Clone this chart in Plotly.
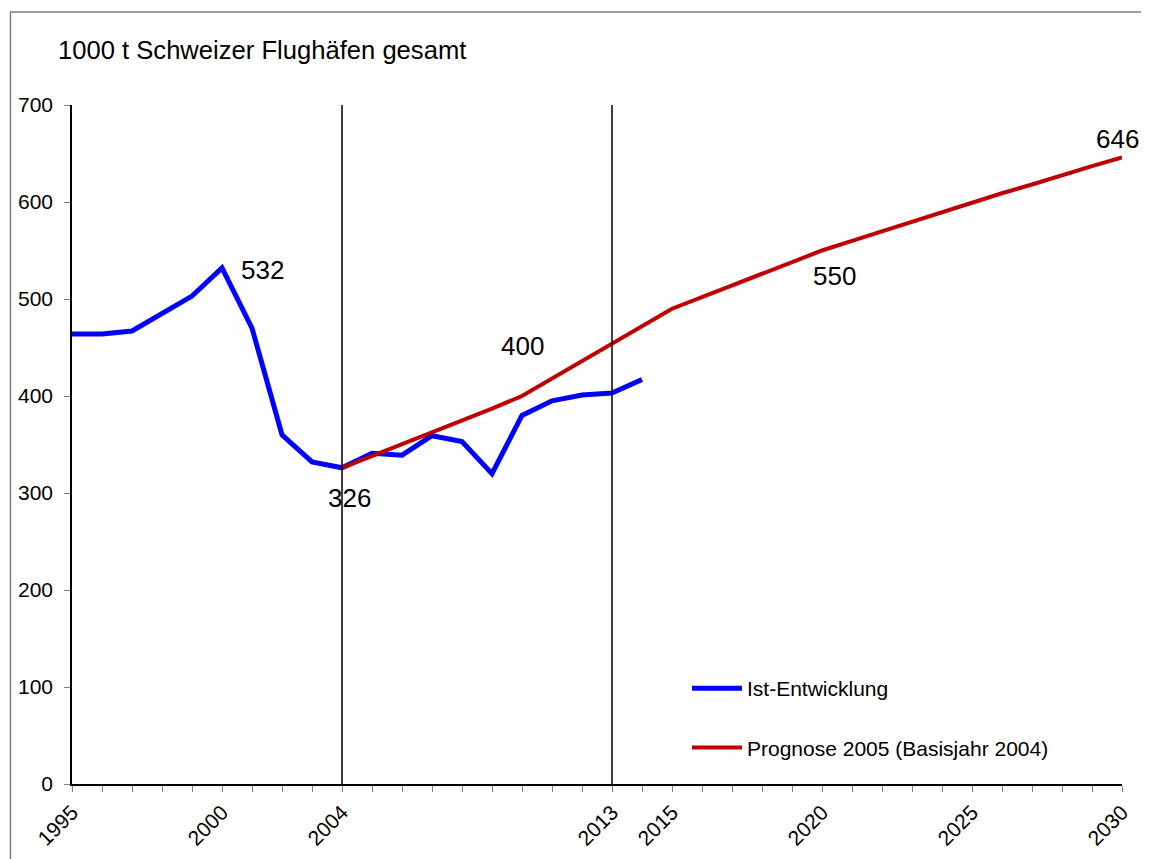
import plotly.graph_objects as go

# Ist-Entwicklung (1000 t), 1995-2014
ist_years = list(range(1995, 2015))
ist_values = [464, 464, 467, 485, 503, 532, 470, 360, 332, 326,
              341, 339, 359, 353, 320, 380, 395, 401, 403, 417]

# Prognose 2005 (Basisjahr 2004), 2004-2030
prog_years = list(range(2004, 2031))
prog_values = [326, 338, 350, 362, 375, 387, 400, 418, 436, 454,
               472, 490, 502, 514, 526, 538, 550, 560, 570, 580,
               590, 600, 609, 618, 628, 637, 646]

label_years = [1995, 2000, 2004, 2013, 2015, 2020, 2025, 2030]
marker_years = [2004, 2013]

FONT = "Arial, Liberation Sans, sans-serif"

fig = go.Figure()
fig.add_trace(go.Scatter(x=ist_years, y=ist_values, mode='lines', name='Ist-Entwicklung',
                         legendgroup='ist', line=dict(color='#0000FF', width=5)))
fig.add_trace(go.Scatter(x=prog_years, y=prog_values, mode='lines',
                         name='Prognose 2005 (Basisjahr 2004)', legendgroup='prog',
                         line=dict(color='#C00000', width=4)))

# vertical reference lines
for yr in marker_years:
    fig.add_shape(type='line', x0=yr, x1=yr, y0=0, y1=700, xref='x', yref='y',
                  line=dict(color='black', width=1.5))

# value labels
ist = dict(zip(ist_years, ist_values))
prog = dict(zip(prog_years, prog_values))
labels = [
    (2000, ist[2000], 40, -2),
    (2004, ist[2004], 7, -30),
    (2010, prog[2010], 0, 50),
    (2020, prog[2020], 12, -25),
    (2030, prog[2030], -5, 18),
]
for x, y, dx, dy in labels:
    fig.add_annotation(x=x, y=y, text=str(y), showarrow=False, xshift=dx, yshift=dy,
                       font=dict(size=26, color='black', family=FONT))

# title
fig.add_annotation(xref='paper', yref='paper', x=-0.0152, y=1.081, xanchor='left',
                   yanchor='middle', text='1000 t Schweizer Flughäfen gesamt',
                   showarrow=False, font=dict(size=25.6, color='black', family=FONT))

# outer frame
fig.add_shape(type='rect', xref='paper', yref='paper', x0=-0.0586, x1=1.06,
              y0=-0.16, y1=1.137, line=dict(color='#808080', width=1.5))

years_all = list(range(1995, 2031))
tick_text = [str(y) if y in label_years else '' for y in years_all]

# page body has an 8px margin, so the figure is shrunk to fit the window
fig.update_layout(
    width=1141, height=851,
    margin=dict(l=64, r=27, t=97, b=75),
    plot_bgcolor='white', paper_bgcolor='white',
    font=dict(family=FONT, size=21, color='black'),
    showlegend=True,
    legend=dict(x=0.5857, y=0.1708, xanchor='left', yanchor='top',
                tracegroupgap=29, bgcolor='rgba(0,0,0,0)',
                font=dict(size=21), itemwidth=50),
    xaxis=dict(range=[1995, 2030], tickvals=years_all, ticktext=tick_text,
               tickangle=-45, ticks='outside', ticklen=6, tickcolor='#808080',
               showline=True, linecolor='black', linewidth=1.5, showgrid=False,
               zeroline=False, automargin=False),
    yaxis=dict(range=[0, 700], dtick=100, ticks='outside', ticklen=6,
               tickcolor='#808080', showline=True, linecolor='black', linewidth=1.5,
               showgrid=False, zeroline=False, automargin=False,
               ticklabelstandoff=7),
)

fig.write_html("out.html")
